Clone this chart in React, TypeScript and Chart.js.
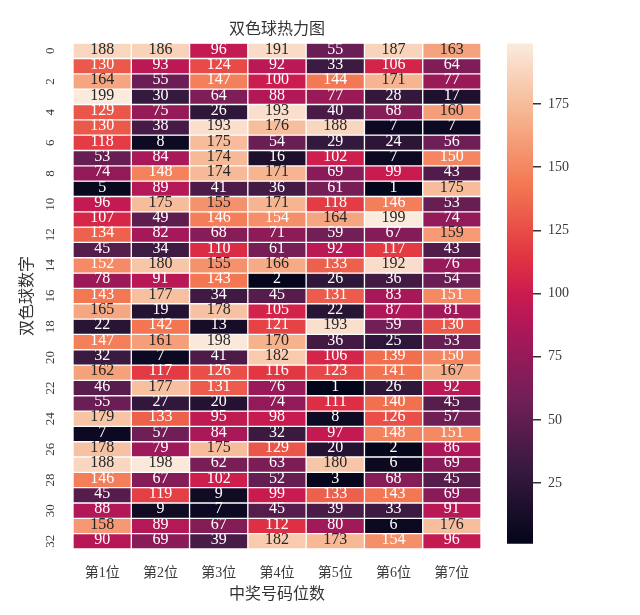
import React, { useEffect, useRef } from 'react';
import { Chart, registerables } from 'chart.js';

Chart.register(...registerables);

// ---------- data ----------
const colLabels = ['第1位', '第2位', '第3位', '第4位', '第5位', '第6位', '第7位'];
const rowLabels = [
  '0', '1', '2', '3', '4', '5', '6', '7', '8', '9', '10', '11', '12', '13', '14', '15', '16',
  '17', '18', '19', '20', '21', '22', '23', '24', '25', '26', '27', '28', '29', '30', '31', '32',
];
const yTickRows = [0, 2, 4, 6, 8, 10, 12, 14, 16, 18, 20, 22, 24, 26, 28, 30, 32];
const cbTicks = [25, 50, 75, 100, 125, 150, 175];
const vmin = 1;
const vmax = 199;
const chartTitle = '双色球热力图';
const xTitle = '中奖号码位数';
const yTitle = '双色球数字';

const heatRows: number[][] = [
  [188, 186, 96, 191, 55, 187, 163],
  [130, 93, 124, 92, 33, 106, 64],
  [164, 55, 147, 100, 144, 171, 77],
  [199, 30, 64, 88, 77, 28, 17],
  [129, 75, 26, 193, 40, 68, 160],
  [130, 38, 193, 176, 188, 7, 7],
  [118, 8, 175, 54, 29, 24, 56],
  [53, 84, 174, 16, 102, 7, 150],
  [74, 148, 174, 171, 69, 99, 43],
  [5, 89, 41, 36, 61, 1, 175],
  [96, 175, 155, 171, 118, 146, 53],
  [107, 49, 146, 154, 164, 199, 74],
  [134, 82, 68, 71, 59, 67, 159],
  [45, 34, 110, 61, 92, 117, 43],
  [152, 180, 155, 166, 133, 192, 76],
  [78, 91, 143, 2, 26, 36, 54],
  [143, 177, 34, 45, 131, 83, 151],
  [165, 19, 178, 105, 22, 87, 81],
  [22, 142, 13, 121, 193, 59, 130],
  [147, 161, 198, 170, 36, 25, 53],
  [32, 7, 41, 182, 106, 139, 150],
  [162, 117, 126, 116, 123, 141, 167],
  [46, 177, 131, 76, 1, 26, 92],
  [55, 27, 20, 74, 111, 140, 45],
  [179, 133, 95, 98, 8, 126, 57],
  [7, 57, 84, 32, 97, 148, 151],
  [178, 79, 175, 129, 20, 2, 86],
  [188, 198, 62, 63, 180, 6, 69],
  [146, 67, 102, 52, 3, 68, 45],
  [45, 119, 9, 99, 133, 143, 69],
  [88, 9, 7, 45, 39, 33, 91],
  [158, 89, 67, 112, 80, 6, 176],
  [90, 69, 39, 182, 173, 154, 96],
];

// ---------- colour map (seaborn "rocket") ----------
const rocketStops: [number, number, number, number][] = [
  [0.0, 3, 5, 26],
  [0.1429, 53, 25, 62],
  [0.2857, 112, 31, 87],
  [0.4286, 173, 23, 89],
  [0.5, 203, 27, 79],
  [0.5714, 225, 51, 66],
  [0.7143, 243, 118, 81],
  [0.8571, 246, 180, 143],
  [1.0, 250, 235, 221],
];

function rocketRGB(t: number): [number, number, number] {
  const tt = Math.max(0, Math.min(1, t));
  for (let i = 1; i < rocketStops.length; i++) {
    const a = rocketStops[i - 1];
    const b = rocketStops[i];
    if (tt <= b[0]) {
      const f = (tt - a[0]) / (b[0] - a[0]);
      return [a[1] + (b[1] - a[1]) * f, a[2] + (b[2] - a[2]) * f, a[3] + (b[3] - a[3]) * f];
    }
  }
  const l = rocketStops[rocketStops.length - 1];
  return [l[1], l[2], l[3]];
}
function rocket(t: number): string {
  const [r, g, b] = rocketRGB(t);
  return `rgb(${Math.round(r)},${Math.round(g)},${Math.round(b)})`;
}
function norm(v: number) {
  return (v - vmin) / (vmax - vmin);
}
function textColor(v: number): string {
  const [r, g, b] = rocketRGB(norm(v)).map((c) => {
    const s = c / 255;
    return s <= 0.03928 ? s / 12.92 : Math.pow((s + 0.055) / 1.055, 2.4);
  });
  const lum = 0.2126 * r + 0.7152 * g + 0.0722 * b;
  return lum > 0.408 ? '#262626' : '#ffffff';
}

const SERIF = "'Liberation Serif', 'Noto Sans CJK SC', serif";
const AXIS_COLOR = '#3a3a3a';

const annotatePlugin = {
  id: 'heatAnnot',
  afterDatasetsDraw(chart: any) {
    const ctx = chart.ctx;
    ctx.save();
    ctx.font = `16px ${SERIF}`;
    ctx.textAlign = 'center';
    ctx.textBaseline = 'middle';
    chart.data.datasets.forEach((_ds: any, i: number) => {
      const meta = chart.getDatasetMeta(i);
      meta.data.forEach((el: any, j: number) => {
        const v = heatRows[i][j];
        const p = el.getProps(['x', 'y', 'base'], true);
        ctx.fillStyle = textColor(v);
        ctx.fillText(String(v), p.x, (p.y + p.base) / 2 - 1.5);
      });
    });
    ctx.restore();
  },
};

export default function App() {
  const mainRef = useRef<HTMLCanvasElement>(null);
  const cbRef = useRef<HTMLCanvasElement>(null);

  useEffect(() => {
    const datasets = heatRows.map((row, i) => ({
      label: rowLabels[i],
      data: row.map(() => 1),
      backgroundColor: row.map((v) => rocket(norm(v))),
      borderColor: '#ffffff',
      borderWidth: 1,
      borderSkipped: false as const,
      barPercentage: 1,
      categoryPercentage: 1,
      stack: 'cells',
    }));

    const main = new Chart(mainRef.current!, {
      type: 'bar',
      data: { labels: colLabels, datasets },
      options: {
        responsive: false,
        animation: false,
        events: [],
        layout: { padding: { left: 0, right: 0, top: 0, bottom: 0 } },
        plugins: {
          legend: { display: false },
          tooltip: { enabled: false },
          title: {
            display: true,
            fullSize: false,
            text: chartTitle,
            color: '#333333',
            font: { family: SERIF, size: 16, weight: 'normal' },
            padding: { top: 20, bottom: 4 },
          },
        },
        scales: {
          x: {
            stacked: true,
            grid: { display: false, drawTicks: true, tickLength: 14 },
            border: { display: false },
            ticks: {
              color: AXIS_COLOR,
              font: { family: SERIF, size: 14 },
              padding: 2,
              minRotation: 0,
              maxRotation: 0,
            },
            title: {
              display: true,
              text: xTitle,
              color: '#333333',
              font: { family: SERIF, size: 16 },
              padding: { top: 0, bottom: 11 },
            },
            afterFit: (s: any) => {
              s.height = 66;
            },
          },
          y: {
            stacked: true,
            reverse: true,
            min: 0,
            max: rowLabels.length,
            grid: { display: false, drawTicks: false },
            border: { display: false },
            afterBuildTicks: (s: any) => {
              s.ticks = yTickRows.map((r) => ({ value: r + 0.5 }));
            },
            ticks: {
              autoSkip: false,
              minRotation: 90,
              maxRotation: 90,
              crossAlign: 'center',
              padding: 16,
              color: AXIS_COLOR,
              font: { family: SERIF, size: 13 },
              callback: (v: any) => rowLabels[Math.floor(Number(v))],
            },
            title: {
              display: true,
              text: yTitle,
              color: '#333333',
              font: { family: SERIF, size: 16 },
              padding: { top: 18, bottom: 0 },
            },
            afterFit: (s: any) => {
              s.width = 73;
            },
          },
        },
      } as any,
      plugins: [annotatePlugin],
    });

    const cb = new Chart(cbRef.current!, {
      type: 'bar',
      data: {
        labels: [''],
        datasets: [
          {
            data: [[vmin, vmax]] as any,
            backgroundColor: (c: any) => {
              const ch = c.chart;
              const ys = ch.scales && ch.scales.y;
              if (!ys || !ch.chartArea) return rocket(0.5);
              const g = ch.ctx.createLinearGradient(0, ys.getPixelForValue(vmin), 0, ys.getPixelForValue(vmax));
              rocketStops.forEach(([t, r, gg, b]) => g.addColorStop(t, `rgb(${r},${gg},${b})`));
              return g;
            },
            borderWidth: 0,
            barPercentage: 1,
            categoryPercentage: 1,
          },
        ],
      },
      options: {
        responsive: false,
        animation: false,
        events: [],
        layout: { padding: { left: 26, right: 0, top: 43.4, bottom: 71.2 } },
        plugins: { legend: { display: false }, tooltip: { enabled: false } },
        scales: {
          x: { display: false },
          y: {
            position: 'right',
            min: vmin,
            max: vmax,
            grid: { drawOnChartArea: false, drawTicks: true, tickLength: 8, tickColor: '#333333', lineWidth: 1.5 },
            border: { display: false },
            afterBuildTicks: (s: any) => {
              s.ticks = cbTicks.map((v) => ({ value: v }));
            },
            ticks: {
              padding: 7,
              color: AXIS_COLOR,
              font: { family: SERIF, size: 14 },
            },
            afterFit: (s: any) => {
              s.width = 107;
            },
          },
        },
      } as any,
    });

    return () => {
      main.destroy();
      cb.destroy();
    };
  }, []);

  return (
    <div style={{ position: 'fixed', left: 0, top: 0, width: 640, height: 615, background: '#ffffff' }}>
      <canvas
        ref={mainRef}
        width={481}
        height={615}
        style={{ position: 'absolute', left: 0, top: 0, width: 481, height: 615 }}
      />
      <canvas
        ref={cbRef}
        width={159}
        height={615}
        style={{ position: 'absolute', left: 481, top: 0, width: 159, height: 615 }}
      />
    </div>
  );
}
